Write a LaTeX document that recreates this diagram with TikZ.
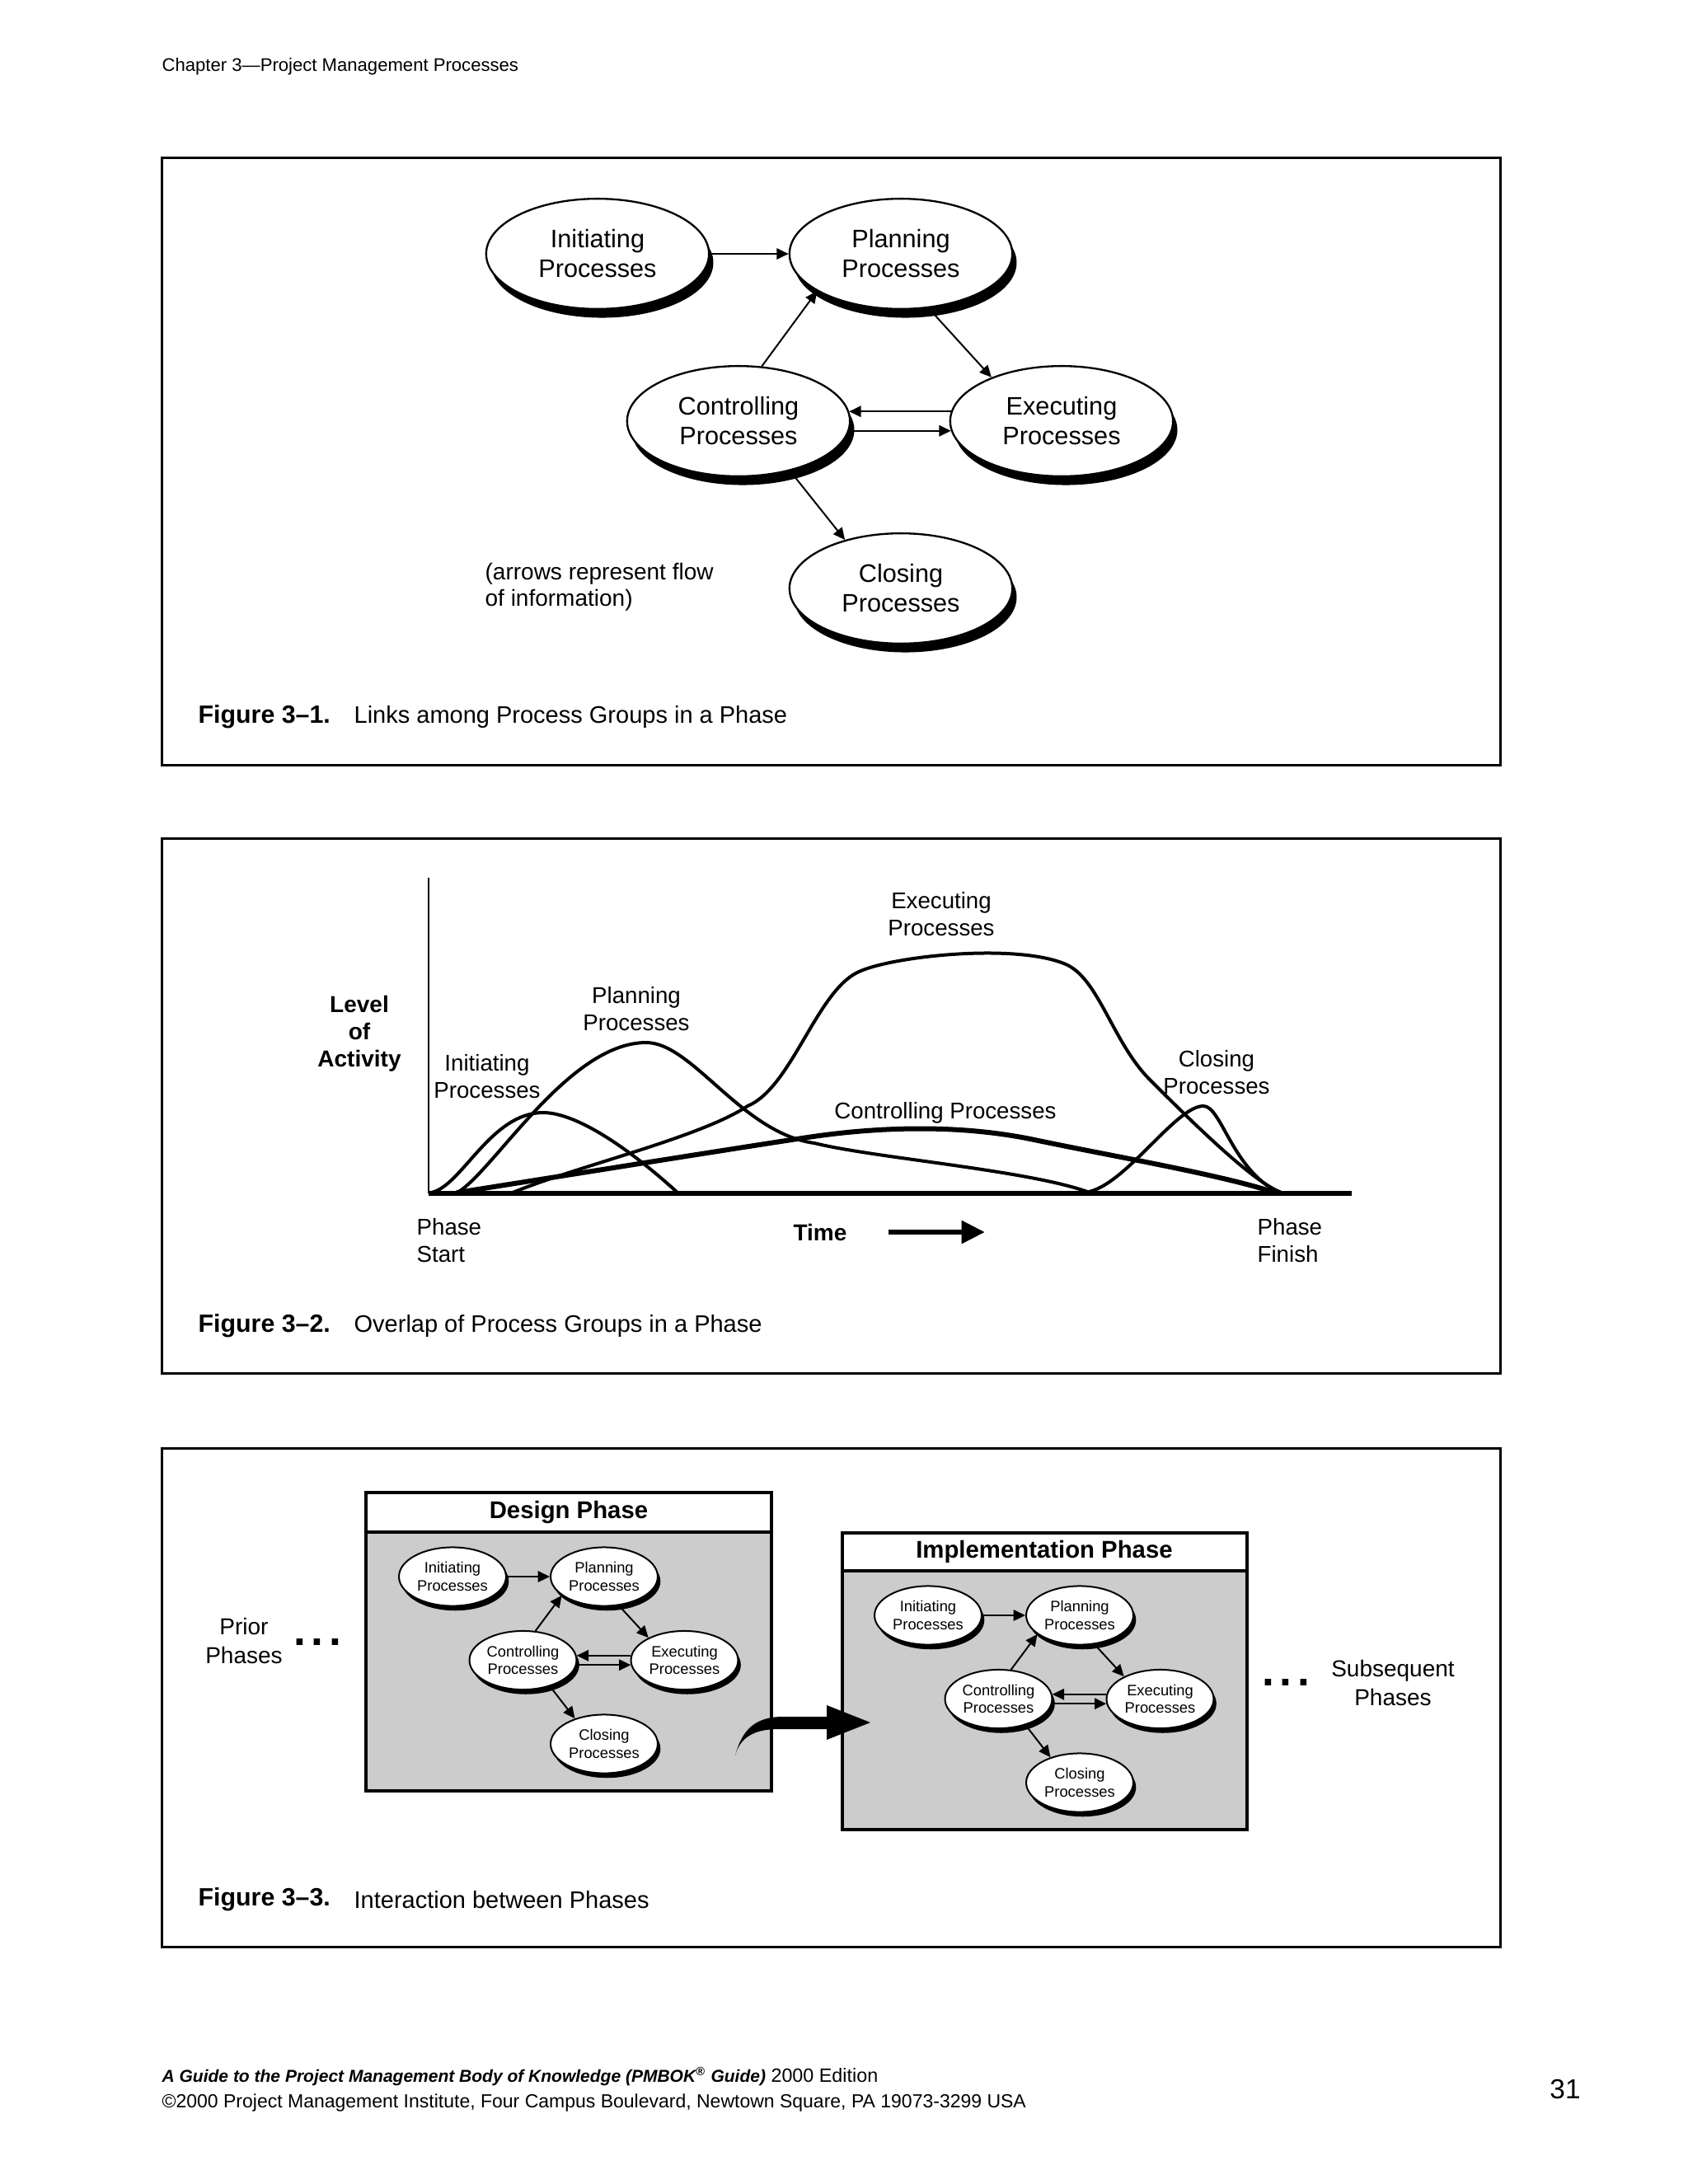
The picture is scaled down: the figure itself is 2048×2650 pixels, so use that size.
\documentclass[tikz,border=0pt]{standalone}
\usepackage{fontspec}
\setmainfont{Liberation Sans}
\usetikzlibrary{arrows.meta,shapes.geometric,shadows,positioning}
\definecolor{phasegray}{gray}{0.8}
\tikzset{
 pgbig/.style={ellipse,draw,line width=.7pt,fill=white,inner sep=0pt,
   minimum width=2.85cm,minimum height=1.41cm,align=center,
   font=\fontsize{9.2}{10.8}\selectfont,
   general shadow={fill=black,shadow xshift=1.6pt,shadow yshift=-3.2pt}},
 pgsmall/.style={ellipse,draw,line width=.6pt,fill=white,inner sep=0pt,
   minimum width=1.37cm,minimum height=.75cm,align=center,
   font=\fontsize{5.5}{6.5}\selectfont,
   general shadow={fill=black,shadow xshift=1pt,shadow yshift=-1.7pt}},
 flow/.style={-{Triangle[length=4.3pt,width=4pt]},line width=.6pt},
 actcurve/.style={line width=1.2pt,line cap=round,line join=round},
 lbl/.style={font=\fontsize{8.3}{9.8}\selectfont,align=center,inner sep=0pt},
 figlabel/.style={font=\fontsize{9.1}{10}\selectfont\bfseries,anchor=west,inner sep=0pt},
 figtitle/.style={font=\fontsize{8.7}{10}\selectfont,anchor=west,inner sep=0pt},
 figbox/.style={line width=.9pt},
 phasebox/.style={line width=1pt},
}
% one ring of process groups: prefix, origin, spacing, node style
\newcommand{\procgroups}[4]{%
 \begin{scope}[shift={#2},scale=#3]
  \node[#4] (#1ini) at (0,0) {Initiating\\Processes};
  \node[#4] (#1pla) at (368,0) {Planning\\Processes};
  \node[#4] (#1ctl) at (171,203) {Controlling\\Processes};
  \node[#4] (#1exe) at (563,203) {Executing\\Processes};
  \node[#4] (#1clo) at (368,406) {Closing\\Processes};
  \draw[flow] (#1ini) -- (#1pla);
  \draw[flow] (#1ctl.67) -- (#1pla.204);
  \draw[flow] (#1pla.297) -- (#1exe.148);
  \draw[flow] (#1exe.175) -- (#1ctl.5);
  \draw[flow] (#1ctl.-5) -- (#1exe.185);
  \draw[flow] (#1ctl.316) -- (#1clo.139);
 \end{scope}}

\begin{document}
\begin{tikzpicture}[x=0.010542cm,y=-0.010542cm,>=Stealth]
 \useasboundingbox (0,0) rectangle (2048,2650);
 \node[anchor=west,inner sep=0pt,font=\fontsize{6.63}{7.5}\selectfont] (chap) at (196,81)
   {Chapter 3—Project Management Processes};

 % Figure 3-1
 \draw[figbox] (196,191) rectangle (1820,928);
 \procgroups{a}{(725,308)}{1}{pgbig}
 \node[anchor=west,align=left,inner sep=0pt,font=\fontsize{8.4}{9.7}\selectfont] (note) at (588,712)
   {(arrows represent flow\\of information)};
 \node[figlabel] (cap1) at (240,870) {Figure 3–1.};
 \node[figtitle] (cap1t) at (429,870) {Links among Process Groups in a Phase};

 % Figure 3-2
 \draw[figbox] (196,1017) rectangle (1820,1666);
 \coordinate (orig) at (520,1448);
 \coordinate (ytop) at (520,1065);
 \coordinate (xend) at (1640,1448);
 \draw[line width=.8pt] (orig) -- (ytop);
 \draw[actcurve] (523,1447) .. controls (560,1440) and (595,1350) .. (659,1350)
   .. controls (700,1350) and (765,1395) .. (822,1447);
 \draw[actcurve] (555,1447) .. controls (600,1420) and (690,1265) .. (784,1265)
   .. controls (840,1265) and (900,1375) .. (988,1387)
   .. controls (1060,1405) and (1250,1420) .. (1322,1447);
 \draw[actcurve] (622,1447) .. controls (700,1415) and (850,1380) .. (907,1342)
   .. controls (960,1320) and (990,1205) .. (1040,1180)
   .. controls (1080,1160) and (1233,1144) .. (1293,1170)
   .. controls (1333,1187) and (1350,1265) .. (1395,1310)
   .. controls (1440,1355) and (1520,1435) .. (1555,1447);
 \draw[actcurve,line width=1.8pt] (555,1447) .. controls (700,1424) and (900,1392) .. (980,1380)
   .. controls (1060,1368) and (1160,1363) .. (1255,1383)
   .. controls (1350,1403) and (1480,1425) .. (1547,1447);
 \draw[actcurve] (1313,1447) .. controls (1360,1447) and (1425,1342) .. (1460,1342)
   .. controls (1482,1342) and (1495,1420) .. (1552,1447);
 \draw[line width=1.6pt] (orig) -- (xend);
 \node[lbl,font=\fontsize{8.4}{9.9}\selectfont\bfseries] (level) at (436,1254) {Level\\of\\Activity};
 \node[lbl] (lini) at (591,1306) {Initiating\\Processes};
 \node[lbl] (lpla) at (772,1224) {Planning\\Processes};
 \node[lbl] (lexe) at (1142,1109) {Executing\\Processes};
 \node[lbl] (lclo) at (1476,1301) {Closing\\Processes};
 \node[lbl] (lctl) at (1147,1350) {Controlling Processes};
 \node[lbl,anchor=west,align=left] (pstart) at (505,1505) {Phase\\Start};
 \node[lbl,anchor=west,align=left] (pfin) at (1525,1505) {Phase\\Finish};
 \node[lbl,font=\fontsize{8.4}{9.9}\selectfont\bfseries] (time) at (995,1495) {Time};
 \coordinate (tarrs) at (1078,1495);
 \coordinate (tarre) at (1195,1495);
 \draw[-{Triangle[length=8.5pt,width=8pt]},line width=2pt] (tarrs) -- (tarre);
 \node[figlabel] (cap2) at (240,1609) {Figure 3–2.};
 \node[figtitle] (cap2t) at (429,1609) {Overlap of Process Groups in a Phase};

 % Figure 3-3
 \draw[figbox] (196,1757) rectangle (1820,2362);
 \filldraw[phasebox,fill=phasegray] (444,1811) rectangle (936,2173);
 \filldraw[phasebox,fill=white] (444,1811) rectangle (936,1859);
 \node[font=\fontsize{8.8}{10}\selectfont\bfseries] (design) at (690,1835) {Design Phase};
 \filldraw[phasebox,fill=phasegray] (1022,1860) rectangle (1513,2220);
 \filldraw[phasebox,fill=white] (1022,1860) rectangle (1513,1906);
 \node[font=\fontsize{8.8}{10}\selectfont\bfseries] (implem) at (1267,1883) {Implementation Phase};
 \procgroups{d}{(549,1913)}{.5}{pgsmall}
 \procgroups{m}{(1126,1960)}{.5}{pgsmall}
 \fill (892,2130) .. controls (900,2100) and (915,2083) .. (950,2083) -- (1003,2083)
   -- (1003,2069) -- (1056,2090) -- (1003,2111) -- (1003,2098) -- (945,2098)
   .. controls (915,2098) and (898,2108) .. (892,2130) -- cycle;
 \node[lbl,font=\fontsize{8.4}{10.7}\selectfont] (prior) at (296,1991) {Prior\\Phases};
 \node[lbl,font=\fontsize{8.4}{10.7}\selectfont] (subseq) at (1690,2042) {Subsequent\\Phases};
 \node[inner sep=0pt,font=\fontsize{16}{16}\selectfont\bfseries] (dotsl) at (385,1993) {.\hspace{2pt}.\hspace{2pt}.};
 \node[inner sep=0pt,font=\fontsize{16}{16}\selectfont\bfseries] (dotsr) at (1560,2042) {.\hspace{2pt}.\hspace{2pt}.};
 \node[figlabel] (cap3) at (240,2305) {Figure 3–3.};
 \node[figtitle] (cap3t) at (429,2305) {Interaction between Phases};

 % footer
 \node[anchor=west,align=left,inner sep=0pt,font=\fontsize{6.9}{9.3}\selectfont] (foot) at (196,2535)
   {{\fontsize{6.3}{9.3}\selectfont\bfseries\itshape A Guide to the Project Management Body of Knowledge (PMBOK\textsuperscript{®} Guide)}{\fontsize{7}{9.3}\selectfont{} 2000 Edition}\\
    ©2000 Project Management Institute, Four Campus Boulevard, Newtown Square, PA 19073-3299 USA};
 \node[inner sep=0pt,font=\fontsize{10}{12}\selectfont] (pnum) at (1899,2535) {31};
\end{tikzpicture}
\end{document}
